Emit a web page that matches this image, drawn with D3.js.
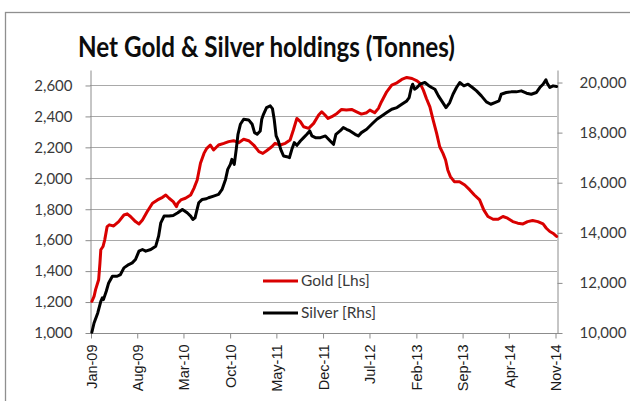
<!DOCTYPE html>
<html>
<head>
<meta charset="utf-8">
<script src="https://cdn.jsdelivr.net/npm/d3@7"></script>
<style>
  html, body { margin: 0; padding: 0; background: #fff; overflow: hidden; }
  svg { display: block; }
</style>
</head>
<body>
<svg id="chart" width="630" height="401"></svg>
<script>
// ---- Data ---------------------------------------------------------------
const chartTitle = "Net Gold & Silver holdings (Tonnes)";
const seriesNames = ["Gold [Lhs]", "Silver [Rhs]"];
const xTickLabels = ["Jan-09", "Aug-09", "Mar-10", "Oct-10", "May-11", "Dec-11",
                     "Jul-12", "Feb-13", "Sep-13", "Apr-14", "Nov-14"];
const goldTicks = [1000, 1200, 1400, 1600, 1800, 2000, 2200, 2400, 2600];
const silverTicks = [10000, 12000, 14000, 16000, 18000, 20000];
const goldAxisMax = 2700;
const silverAxisMax = 20500;

const goldDates = [
  "2009-01-05","2009-01-15","2009-01-22","2009-02-05","2009-02-11","2009-02-15","2009-02-25","2009-03-05","2009-03-16","2009-03-26",
  "2009-04-15","2009-05-08","2009-06-01","2009-06-16","2009-07-01","2009-07-24","2009-08-09","2009-08-25","2009-09-16","2009-10-10",
  "2009-11-02","2009-11-25","2009-12-10","2009-12-25","2010-01-13","2010-01-28","2010-02-03","2010-02-17","2010-03-10","2010-04-03",
  "2010-04-18","2010-05-03","2010-05-18","2010-06-03","2010-06-16","2010-07-02","2010-07-17","2010-08-09","2010-09-02","2010-09-24",
  "2010-10-17","2010-11-09","2010-12-02","2010-12-25","2011-01-17","2011-02-10","2011-02-28","2011-03-17","2011-04-10","2011-04-25",
  "2011-05-18","2011-06-11","2011-07-03","2011-07-18","2011-08-03","2011-08-19","2011-09-03","2011-09-26","2011-10-19","2011-11-11",
  "2011-11-25","2011-12-10","2011-12-24","2012-01-10","2012-02-03","2012-02-24","2012-03-17","2012-04-10","2012-05-03","2012-05-25",
  "2012-06-18","2012-07-03","2012-07-25","2012-08-11","2012-08-25","2012-09-18","2012-10-11","2012-11-04","2012-11-26","2012-12-19",
  "2013-01-12","2013-02-04","2013-02-18","2013-03-05","2013-03-19","2013-04-04","2013-04-19","2013-05-05","2013-05-19","2013-06-03",
  "2013-06-15","2013-06-25","2013-07-07","2013-07-25","2013-08-18","2013-09-11","2013-10-04","2013-10-25","2013-11-18","2013-12-07",
  "2013-12-26","2014-01-19","2014-02-11","2014-03-05","2014-03-26","2014-04-19","2014-05-12","2014-06-05","2014-06-26","2014-07-19",
  "2014-08-12","2014-09-05","2014-09-20","2014-10-06","2014-10-20","2014-11-06"
];
const goldTonnes = [
  1205,1236,1280,1344,1452,1538,1559,1602,1688,1699,
  1692,1720,1763,1770,1753,1720,1705,1731,1785,1839,
  1860,1877,1892,1871,1849,1817,1839,1860,1871,1892,
  1935,1989,2097,2161,2194,2215,2183,2215,2226,2237,
  2243,2230,2252,2243,2215,2172,2161,2178,2204,2226,
  2215,2226,2247,2312,2387,2366,2333,2323,2355,2409,
  2430,2409,2387,2398,2419,2445,2441,2445,2430,2415,
  2424,2441,2424,2452,2495,2559,2602,2617,2639,2652,
  2645,2630,2613,2570,2516,2462,2376,2290,2204,2161,
  2118,2054,2011,1978,1978,1957,1925,1892,1860,1796,
  1753,1735,1735,1753,1742,1720,1710,1705,1720,1727,
  1720,1705,1677,1656,1645,1624
];

const silverDates = [
  "2009-01-05","2009-01-15","2009-02-01","2009-02-15","2009-02-22","2009-02-27","2009-03-12","2009-03-23","2009-04-09","2009-05-01",
  "2009-05-16","2009-06-01","2009-06-23","2009-07-09","2009-07-24","2009-08-09","2009-08-25","2009-09-09","2009-10-02","2009-10-25",
  "2009-11-07","2009-11-17","2009-12-02","2009-12-25","2010-01-13","2010-02-03","2010-02-24","2010-03-18","2010-04-03","2010-04-13",
  "2010-04-23","2010-05-10","2010-05-26","2010-06-14","2010-06-24","2010-07-17","2010-08-09","2010-08-25","2010-09-10","2010-09-20",
  "2010-10-02","2010-10-09","2010-10-20","2010-10-29","2010-11-06","2010-11-17","2010-12-02","2010-12-25","2011-01-10","2011-01-21",
  "2011-02-02","2011-02-16","2011-02-23","2011-03-03","2011-03-17","2011-04-03","2011-04-13","2011-04-21","2011-04-30","2011-05-10",
  "2011-05-21","2011-06-03","2011-06-18","2011-06-30","2011-07-11","2011-07-22","2011-08-03","2011-08-19","2011-09-03","2011-09-18",
  "2011-10-01","2011-10-11","2011-10-27","2011-11-19","2011-12-12","2012-01-03","2012-01-18","2012-01-29","2012-02-17","2012-03-03",
  "2012-03-18","2012-04-03","2012-04-26","2012-05-11","2012-05-25","2012-06-18","2012-07-11","2012-08-04","2012-08-26","2012-09-18",
  "2012-10-11","2012-11-04","2012-11-26","2012-12-19","2012-12-30","2013-01-09","2013-01-15","2013-01-24","2013-02-04","2013-02-18",
  "2013-03-12","2013-03-27","2013-04-12","2013-04-27","2013-05-13","2013-05-28","2013-06-17","2013-07-04","2013-07-19","2013-08-04",
  "2013-08-19","2013-09-07","2013-09-26","2013-10-16","2013-11-04","2013-11-26","2013-12-19","2014-01-08","2014-01-27","2014-02-15",
  "2014-02-25","2014-03-20","2014-04-12","2014-05-05","2014-05-28","2014-06-21","2014-07-13","2014-08-05","2014-08-21","2014-09-05",
  "2014-09-18","2014-09-24","2014-10-06","2014-10-21","2014-11-06"
];
const silverTonnes = [
  10030,10400,10800,11267,11400,11333,11667,12000,12267,12267,
  12333,12600,12733,12800,12933,13267,13333,13267,13333,13467,
  13867,14400,14667,14667,14693,14800,14933,14800,14667,14533,
  14600,15200,15333,15360,15400,15467,15533,15733,16133,16533,
  16733,16933,16733,17333,17933,18333,18533,18507,18333,18000,
  17933,18067,18533,18733,19000,19067,18960,18533,17867,17667,
  17333,17067,17040,17000,17333,17600,17493,17667,17800,17933,
  18067,17867,17800,17800,17867,17667,17533,17933,18067,18200,
  18133,18067,17933,17867,18000,18133,18333,18533,18667,18800,
  18933,19000,19133,19267,19400,19800,19933,19733,19800,19933,
  20000,19893,19800,19733,19467,19267,19000,19200,19533,19800,
  20000,19867,19933,19800,19667,19467,19227,19133,19200,19267,
  19533,19600,19627,19627,19667,19573,19533,19600,19800,19933,
  20107,19973,19800,19867,19840
];

// ---- Layout -------------------------------------------------------------
const plot = { left: 90, right: 557, top: 70, bottom: 333 };
const gold = "#d90000", silver = "#000000";
const gridColor = "#a9a9a9", axisColor = "#8c8c8c";
const labelFont = "Lato, 'Open Sans', sans-serif";
const dateFont = "'Liberation Sans', Arial, sans-serif";

const parseDate = d3.timeParse("%Y-%m-%d");
const parseTick = d3.timeParse("%b-%y");
const tickDates = xTickLabels.map(parseTick);

const x = d3.scaleTime()
  .domain([tickDates[0], tickDates[tickDates.length - 1]])
  .range([plot.left + 1, plot.right - 1.5]);
const yGold = d3.scaleLinear().domain([goldTicks[0], goldAxisMax]).range([plot.bottom, plot.top]);
const ySilver = d3.scaleLinear().domain([silverTicks[0], silverAxisMax]).range([plot.bottom, plot.top]);

const goldData = goldDates.map((d, i) => ({ date: parseDate(d), value: goldTonnes[i] }));
const silverData = silverDates.map((d, i) => ({ date: parseDate(d), value: silverTonnes[i] }));

const svg = d3.select("#chart");

// chart frame
svg.append("rect")
  .attr("x", 5.5).attr("y", 12.5).attr("width", 700).attr("height", 500)
  .attr("fill", "#fff").attr("stroke", "#8f8f8f").attr("stroke-width", 1.3);

// title
svg.append("text")
  .attr("x", 266.5).attr("y", 57)
  .attr("text-anchor", "middle")
  .attr("textLength", 377).attr("lengthAdjust", "spacingAndGlyphs")
  .style("font-family", labelFont).style("font-weight", 700).style("font-size", "29px")
  .attr("fill", "#0d0d0d")
  .text(chartTitle);

// horizontal gridlines on the gold scale
svg.append("g").selectAll("line")
  .data(goldTicks.filter(t => t > goldTicks[0]))
  .join("line")
  .attr("x1", plot.left).attr("x2", plot.right)
  .attr("y1", d => Math.round(yGold(d)) + 0.5).attr("y2", d => Math.round(yGold(d)) + 0.5)
  .attr("stroke", gridColor).attr("stroke-width", 1);

// left axis (gold)
const leftAxis = svg.append("g")
  .attr("transform", `translate(${plot.left + 0.5},0)`)
  .call(d3.axisLeft(yGold).tickValues(goldTicks).tickSize(5).tickSizeOuter(0)
    .tickPadding(13).tickFormat(d3.format(",")));

// right axis (silver)
const rightAxis = svg.append("g")
  .attr("transform", `translate(${plot.right + 0.5},0)`)
  .call(d3.axisRight(ySilver).tickValues(silverTicks).tickSize(5).tickSizeOuter(0)
    .tickPadding(17).tickFormat(d3.format(",")));

[leftAxis, rightAxis].forEach(g => {
  g.select(".domain").attr("stroke", axisColor);
  g.selectAll(".tick line").attr("stroke", axisColor);
  g.selectAll(".tick text")
    .style("font-family", labelFont).style("font-size", "15px").attr("fill", "#3a3a3a");
});

// bottom axis (dates)
const bottomAxis = svg.append("g")
  .attr("transform", `translate(0,${plot.bottom + 0.5})`)
  .call(d3.axisBottom(x).tickValues(tickDates).tickSize(5)
    .tickFormat((d, i) => xTickLabels[i]));
bottomAxis.select(".domain").remove();
bottomAxis.selectAll(".tick line").attr("stroke", axisColor);
bottomAxis.selectAll(".tick text")
  .attr("transform", "rotate(-90)")
  .attr("x", -11).attr("y", 0).attr("dy", "0.36em")
  .style("text-anchor", "end")
  .style("font-family", dateFont).style("font-size", "14.5px").attr("fill", "#1a1a1a");
bottomAxis.append("line")
  .attr("x1", plot.left).attr("x2", plot.right + 1).attr("y1", 0).attr("y2", 0)
  .attr("stroke", axisColor);

// series lines
const goldLine = d3.line().x(d => x(d.date)).y(d => yGold(d.value));
const silverLine = d3.line().x(d => x(d.date)).y(d => ySilver(d.value));

svg.append("path").datum(goldData)
  .attr("d", goldLine).attr("fill", "none")
  .attr("stroke", gold).attr("stroke-width", 3)
  .attr("stroke-linejoin", "round").attr("stroke-linecap", "round");

svg.append("path").datum(silverData)
  .attr("d", silverLine).attr("fill", "none")
  .attr("stroke", silver).attr("stroke-width", 3)
  .attr("stroke-linejoin", "round").attr("stroke-linecap", "round");

// legend
const legend = svg.append("g").attr("transform", "translate(263,281)");
const items = legend.selectAll("g")
  .data(seriesNames)
  .join("g")
  .attr("transform", (d, i) => `translate(0,${i * 32})`);
items.append("line")
  .attr("x1", 0).attr("x2", 35).attr("y1", 0).attr("y2", 0)
  .attr("stroke", (d, i) => i === 0 ? gold : silver).attr("stroke-width", 3);
items.append("text")
  .attr("x", 38).attr("y", 0).attr("dy", "0.35em")
  .style("font-family", labelFont).style("font-size", "15.5px").attr("fill", "#3a3a3a")
  .text(d => d);
</script>
</body>
</html>
